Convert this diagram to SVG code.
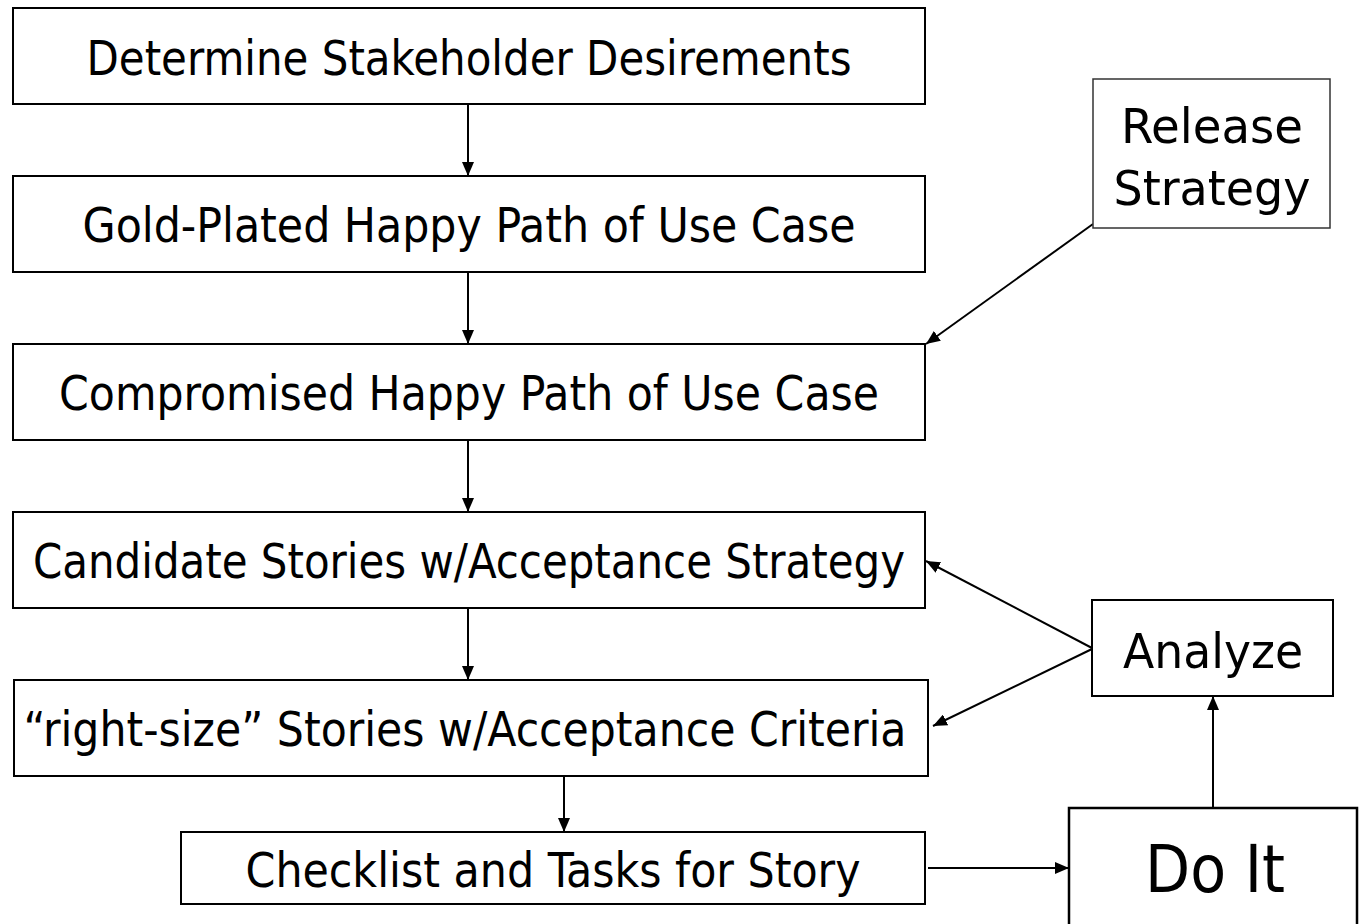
<svg xmlns="http://www.w3.org/2000/svg" width="1362" height="924" viewBox="0 0 1362 924">
<style>
.box{fill:#fff;stroke:#000;stroke-width:2}
.t{font-family:"DejaVu Sans Condensed","DejaVu Sans",Tahoma,sans-serif;font-size:48px;fill:#000;text-anchor:middle}
.c{stroke:#000;stroke-width:2;fill:none;marker-end:url(#ah)}
</style>
<defs>
<marker id="ah" markerUnits="userSpaceOnUse" markerWidth="14" markerHeight="12" viewBox="0 0 14 12" refX="14" refY="6" orient="auto">
<path d="M0,0 L14,6 L0,12 z" fill="#000"/>
</marker>
</defs>
<rect width="1362" height="924" fill="#fff"/>
<g id="connectors">
<line class="c" x1="468" y1="104" x2="468" y2="176"/>
<line class="c" x1="468" y1="272" x2="468" y2="344"/>
<line class="c" x1="468" y1="440" x2="468" y2="512"/>
<line class="c" x1="468" y1="608" x2="468" y2="680"/>
<line class="c" x1="564" y1="776" x2="564" y2="832"/>
<line class="c" x1="1093" y1="224" x2="926" y2="344"/>
<line class="c" x1="1092" y1="648" x2="926" y2="561"/>
<line class="c" x1="1092" y1="649" x2="933" y2="726"/>
<line class="c" x1="928" y1="868" x2="1069" y2="868"/>
<line class="c" x1="1213" y1="808" x2="1213" y2="696"/>
</g>
<g id="n1"><rect class="box" x="13" y="8" width="912" height="96"/><text class="t" x="469" y="75" textLength="765" lengthAdjust="spacingAndGlyphs">Determine Stakeholder Desirements</text></g>
<g id="n2"><rect class="box" x="13" y="176" width="912" height="96"/><text class="t" x="469" y="242" textLength="773" lengthAdjust="spacingAndGlyphs">Gold-Plated Happy Path of Use Case</text></g>
<g id="n3"><rect class="box" x="13" y="344" width="912" height="96"/><text class="t" x="469" y="410" textLength="820" lengthAdjust="spacingAndGlyphs">Compromised Happy Path of Use Case</text></g>
<g id="n4"><rect class="box" x="13" y="512" width="912" height="96"/><text class="t" x="469" y="578" textLength="872" lengthAdjust="spacingAndGlyphs">Candidate Stories w/Acceptance Strategy</text></g>
<g id="n5"><rect class="box" x="14" y="680" width="914" height="96"/><text class="t" x="465" y="746" textLength="883" lengthAdjust="spacingAndGlyphs">“right-size” Stories w/Acceptance Criteria</text></g>
<g id="n6"><rect class="box" x="181" y="832" width="744" height="72"/><text class="t" x="553" y="887" textLength="615" lengthAdjust="spacingAndGlyphs">Checklist and Tasks for Story</text></g>
<g id="n7"><rect class="box" x="1093" y="79" width="237" height="149" style="stroke:#333;stroke-width:1.5"/><text class="t" x="1212" y="143" textLength="182" lengthAdjust="spacingAndGlyphs">Release</text><text class="t" x="1212" y="205" textLength="197" lengthAdjust="spacingAndGlyphs">Strategy</text></g>
<g id="n8"><rect class="box" x="1092" y="600" width="241" height="96"/><text class="t" x="1213" y="668" textLength="180" lengthAdjust="spacingAndGlyphs">Analyze</text></g>
<g id="n9"><rect class="box" x="1069" y="808" width="288" height="130" style="stroke-width:2.5"/><text class="t" x="1215" y="892" style="font-size:65px" textLength="140" lengthAdjust="spacingAndGlyphs">Do It</text></g>
</svg>
